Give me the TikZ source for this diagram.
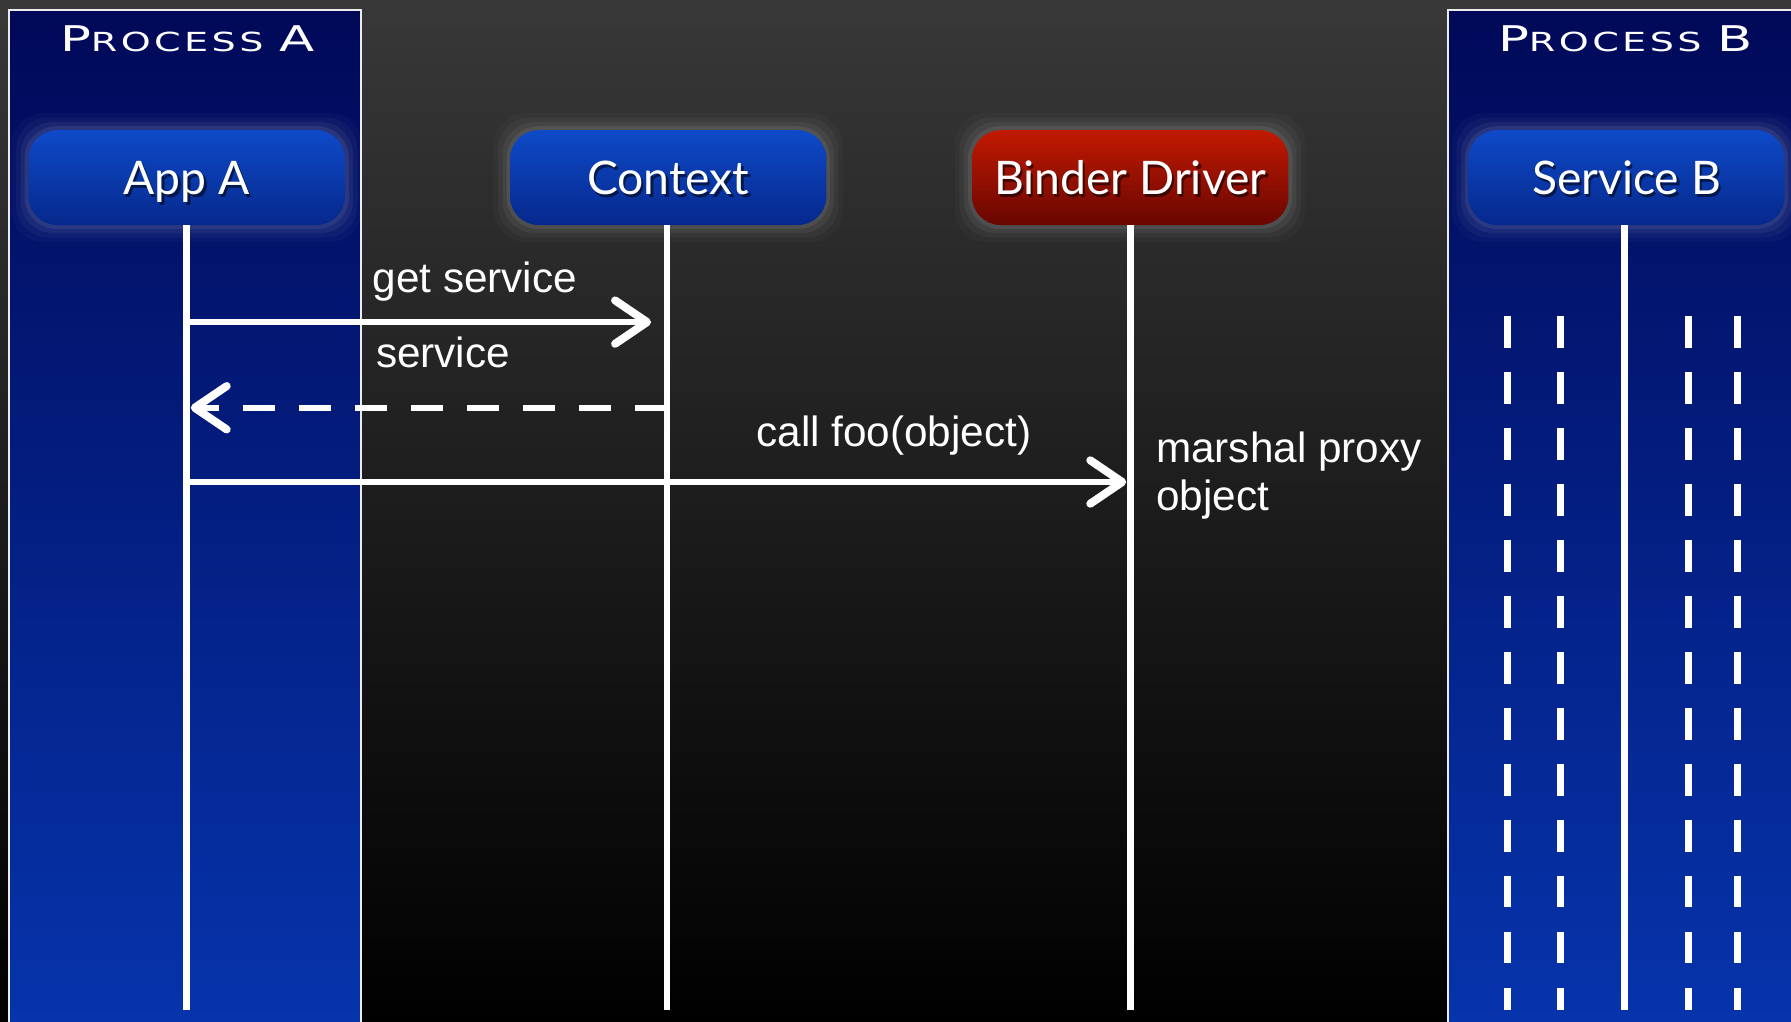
\documentclass[tikz,border=0pt]{standalone}
\usepackage{fontspec}
\setmainfont{Liberation Sans}
\newfontfamily\boxfont{Lato}
\newfontfamily\titlefont[FakeStretch=1.45,LetterSpace=13]{DejaVu Sans}
\usetikzlibrary{arrows.meta}
\definecolor{bgtop}{RGB}{56,56,56}
\definecolor{bgmid}{RGB}{36,36,36}
\definecolor{paneltop}{RGB}{1,9,88}
\definecolor{panelbot}{RGB}{6,52,172}
\definecolor{boxtop}{RGB}{14,74,200}
\definecolor{boxbot}{RGB}{6,40,140}
\definecolor{redtop}{RGB}{194,26,2}
\definecolor{redbot}{RGB}{104,6,0}
\newcommand\glowrect[4]{%
  \foreach \g/\o in {15/0.025,11/0.035,7/0.05,3.5/0.07}{%
    \fill[white,opacity=\o,rounded corners=28pt] (#1-\g,#2-\g) rectangle (#3+\g,#4+\g);}}
\newcommand\proctitle[1]{\titlefont\fontsize{31}{31}\selectfont P\fontsize{23}{23}\selectfont ROCESS\hspace{14pt}\fontsize{31}{31}\selectfont #1}
\begin{document}
\begin{tikzpicture}[x=1pt,y=1pt,
  boxlabel/.style={font=\boxfont\fontsize{40.5}{40.5}\selectfont, text height=29pt, text depth=0pt},
  seqbox/.style={boxlabel, rounded corners=25pt, minimum width=277pt, minimum height=83pt,
    inner sep=0pt, text=white,
    path picture={\node[boxlabel, text=black, opacity=0.55] at ([shift={(2pt,-3pt)}]path picture bounding box.center) {#1};}},
  bluebox/.style={seqbox={#1}, top color=boxtop, bottom color=boxbot},
  redbox/.style={seqbox={#1}, top color=redtop, bottom color=redbot},
  lifeline/.style={white, line width=6pt},
  msg/.style={white, line width=5pt, -{Straight Barb[length=28pt,width=38pt,line width=7pt,round]}},
  reply/.style={msg, dash pattern=on 28pt off 21pt},
  lbl/.style={text=white, font=\fontsize{37}{42}\selectfont, inner sep=0pt},
  ttl/.style={text=white, inner sep=0pt}
]
\useasboundingbox (0,0) rectangle (1568,894);
% background
\shade[top color=bgtop, middle color=bgmid, bottom color=black] (0,0) rectangle (1568,894);
% process panels
\shade[top color=paneltop, bottom color=panelbot] (8,-2) rectangle (316,885);
\draw[white!85!gray, line width=1.5pt] (8,-2) -- (8,885) -- (316,885) -- (316,-2);
\shade[top color=paneltop, bottom color=panelbot] (1268,-2) rectangle (1572,885);
\draw[white!85!gray, line width=1.5pt] (1572,885) -- (1268,885) -- (1268,-2);
% titles
\node[ttl, anchor=base] (ta) at (164,849) {\proctitle{A}};
\node[ttl, anchor=base] (tb) at (1423,849) {\proctitle{B}};
% glows
\glowrect{25}{697}{302}{780}
\glowrect{447}{697}{723}{780}
\glowrect{851}{697}{1128}{780}
\glowrect{1286}{697}{1562}{780}
% boxes
\node[bluebox={App A}] (app) at (163.5,738.5) {App A};
\node[bluebox={Context}] (ctx) at (585,738.5) {Context};
\node[redbox={Binder Driver}] (bd) at (989.5,738.5) {Binder Driver};
\node[bluebox={Service B}] (svc) at (1424,738.5) {Service B};
% lifelines
\coordinate (bot) at (0,10);
\coordinate (appT) at (163,697);
\coordinate (ctxT) at (584,697);
\coordinate (bdT) at (990,697);
\coordinate (svcT) at (1422,697);
\draw[lifeline] (appT) -- (appT |- bot);
\draw[lifeline] (ctxT) -- (ctxT |- bot);
\draw[lifeline] (bdT) -- (bdT |- bot);
\draw[lifeline] (svcT) -- (svcT |- bot);
% thread dashes in process B
\foreach \x in {1320,1366,1478,1521}
  \draw[white, line width=6.5pt, dash pattern=on 27.5pt off 21.5pt] (\x,617) -- (\x,10);
% messages
\coordinate (m1s) at (163,612);
\coordinate (m1e) at (570,612);
\coordinate (m2s) at (584,537);
\coordinate (m2e) at (167,537);
\coordinate (m3s) at (163,472);
\coordinate (m3e) at (986,472);
\draw[msg] (m1s) -- (m1e);
\draw[reply] (m2s) -- (m2e);
\draw[msg] (m3s) -- (m3e);
% labels
\node[lbl, anchor=base west] (l1) at (326,638) {get service};
\node[lbl, anchor=base west] (l2) at (329,572) {service};
\node[lbl, anchor=base west] (l3) at (662,503) {call foo(object)};
\node[lbl, anchor=base west, align=left] (l4) at (1012,447) {marshal proxy\\object};
\end{tikzpicture}
\end{document}
